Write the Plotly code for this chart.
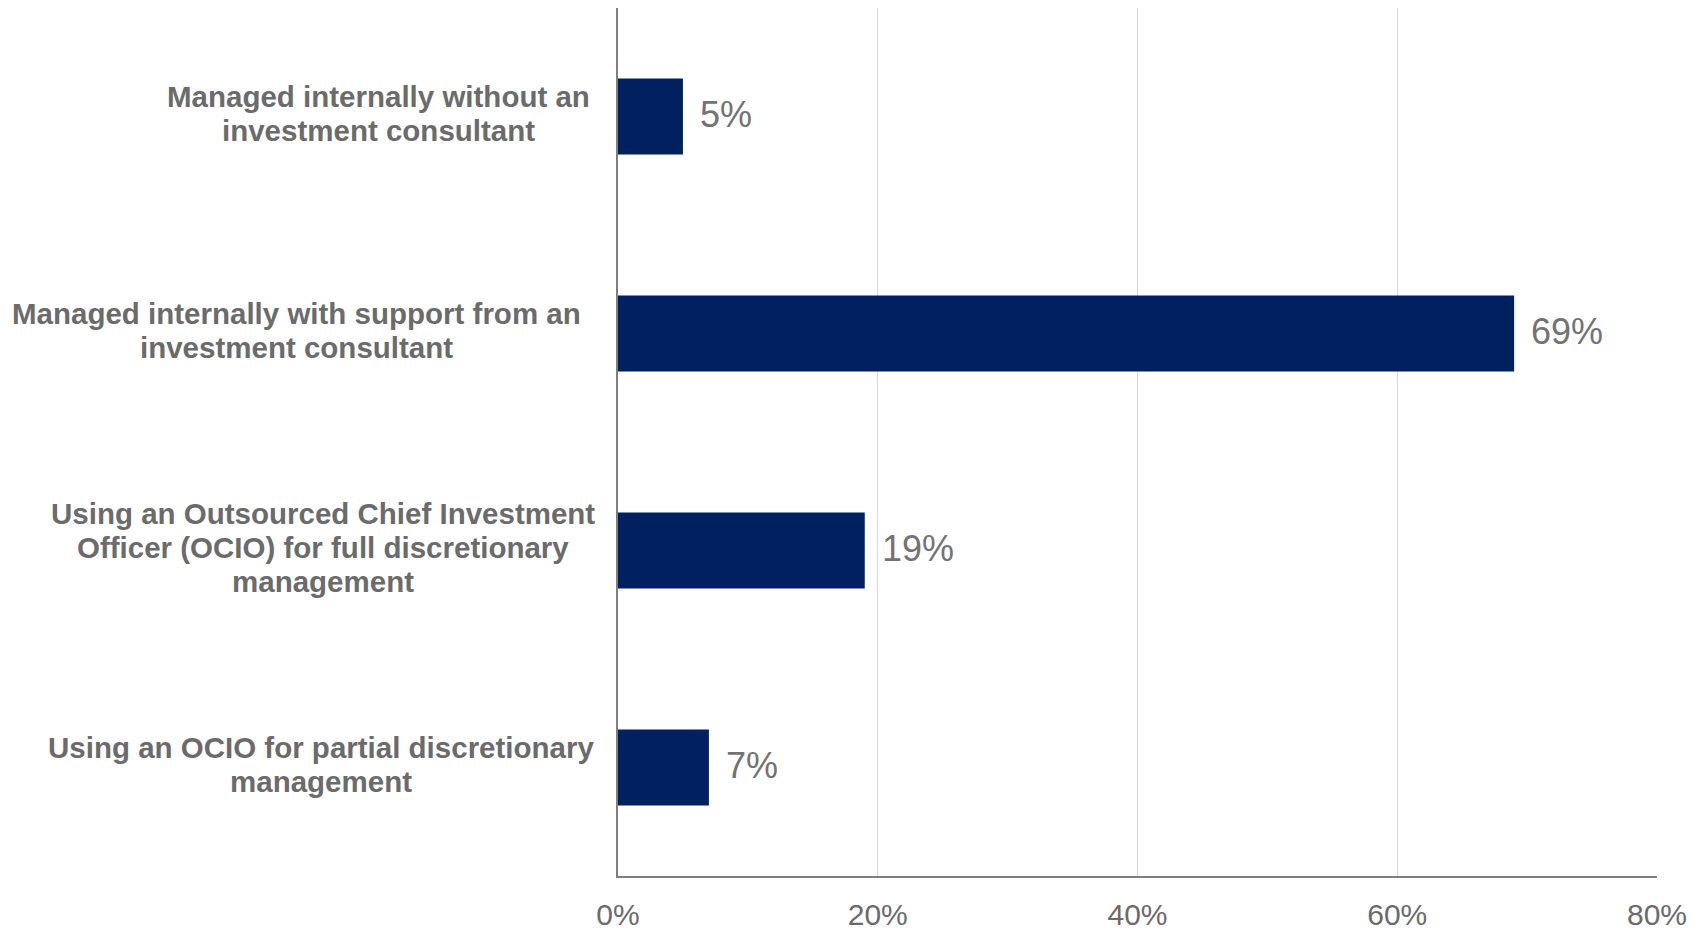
import plotly.graph_objects as go

# Survey responses: how the investment program is managed
categories = [
    ["Managed internally without an", "investment consultant"],
    ["Managed internally with support from an", "investment consultant"],
    ["Using an Outsourced Chief Investment", "Officer (OCIO) for full discretionary", "management"],
    ["Using an OCIO for partial discretionary", "management"],
]
shares = [5, 69, 19, 7]
x_ticks = [0, 20, 40, 60, 80]
x_tick_labels = ["0%", "20%", "40%", "60%", "80%"]

BAR_COLOR = "#002060"
TEXT_GRAY = "#6b6b6b"
VALUE_GRAY = "#737373"
FONT = "Liberation Sans, Arial, sans-serif"
LINE_GAP = 34  # px between label lines

# position keys so the labels stay unique on the category axis
keys = [f"c{i}" for i in range(len(categories))]

fig = go.Figure(
    go.Bar(
        x=shares,
        y=keys,
        orientation="h",
        marker=dict(color=BAR_COLOR, line=dict(width=0)),
        hoverinfo="skip",
    )
)

annotations = []
# category labels: centred text blocks to the left of the axis
block_centre = [-240, -322, -295, -297]
for k, lines, cx in zip(keys, categories, block_centre):
    n = len(lines)
    for j, line in enumerate(lines):
        annotations.append(
            dict(
                x=0, xref="x", y=k, yref="y",
                text=line, showarrow=False,
                xanchor="center", yanchor="middle", align="center",
                xshift=cx,
                yshift=((n - 1) / 2 - j) * LINE_GAP + 3,
                font=dict(family=FONT, size=29.5, color=TEXT_GRAY, weight="bold"),
            )
        )
# value labels next to each bar
for k, v in zip(keys, shares):
    annotations.append(
        dict(
            x=v, xref="x", y=k, yref="y",
            text=f"{v}%", showarrow=False,
            xanchor="left", yanchor="middle",
            xshift=15, yshift=2,
            font=dict(family=FONT, size=36, color=VALUE_GRAY),
        )
    )

fig.update_layout(
    width=1707,
    height=931,
    margin=dict(l=618, r=50, t=8, b=55),
    paper_bgcolor="white",
    plot_bgcolor="white",
    bargap=0.65,
    showlegend=False,
    annotations=annotations,
    xaxis=dict(
        range=[0, 80],
        tickvals=x_ticks,
        ticktext=x_tick_labels,
        showgrid=True,
        gridcolor="#d9d9d9",
        gridwidth=1,
        zeroline=False,
        showline=True,
        linecolor="#7f7f7f",
        linewidth=2,
        ticks="",
        ticklabelstandoff=11,
        automargin=False,
        tickfont=dict(family=FONT, size=30, color=TEXT_GRAY),
        fixedrange=True,
    ),
    yaxis=dict(
        categoryorder="array",
        categoryarray=keys,
        autorange="reversed",
        showticklabels=False,
        showgrid=False,
        zeroline=False,
        showline=True,
        linecolor="#7f7f7f",
        linewidth=1.5,
        ticks="",
        automargin=False,
        fixedrange=True,
    ),
)

fig.write_html("out.html", config={"displayModeBar": False})
